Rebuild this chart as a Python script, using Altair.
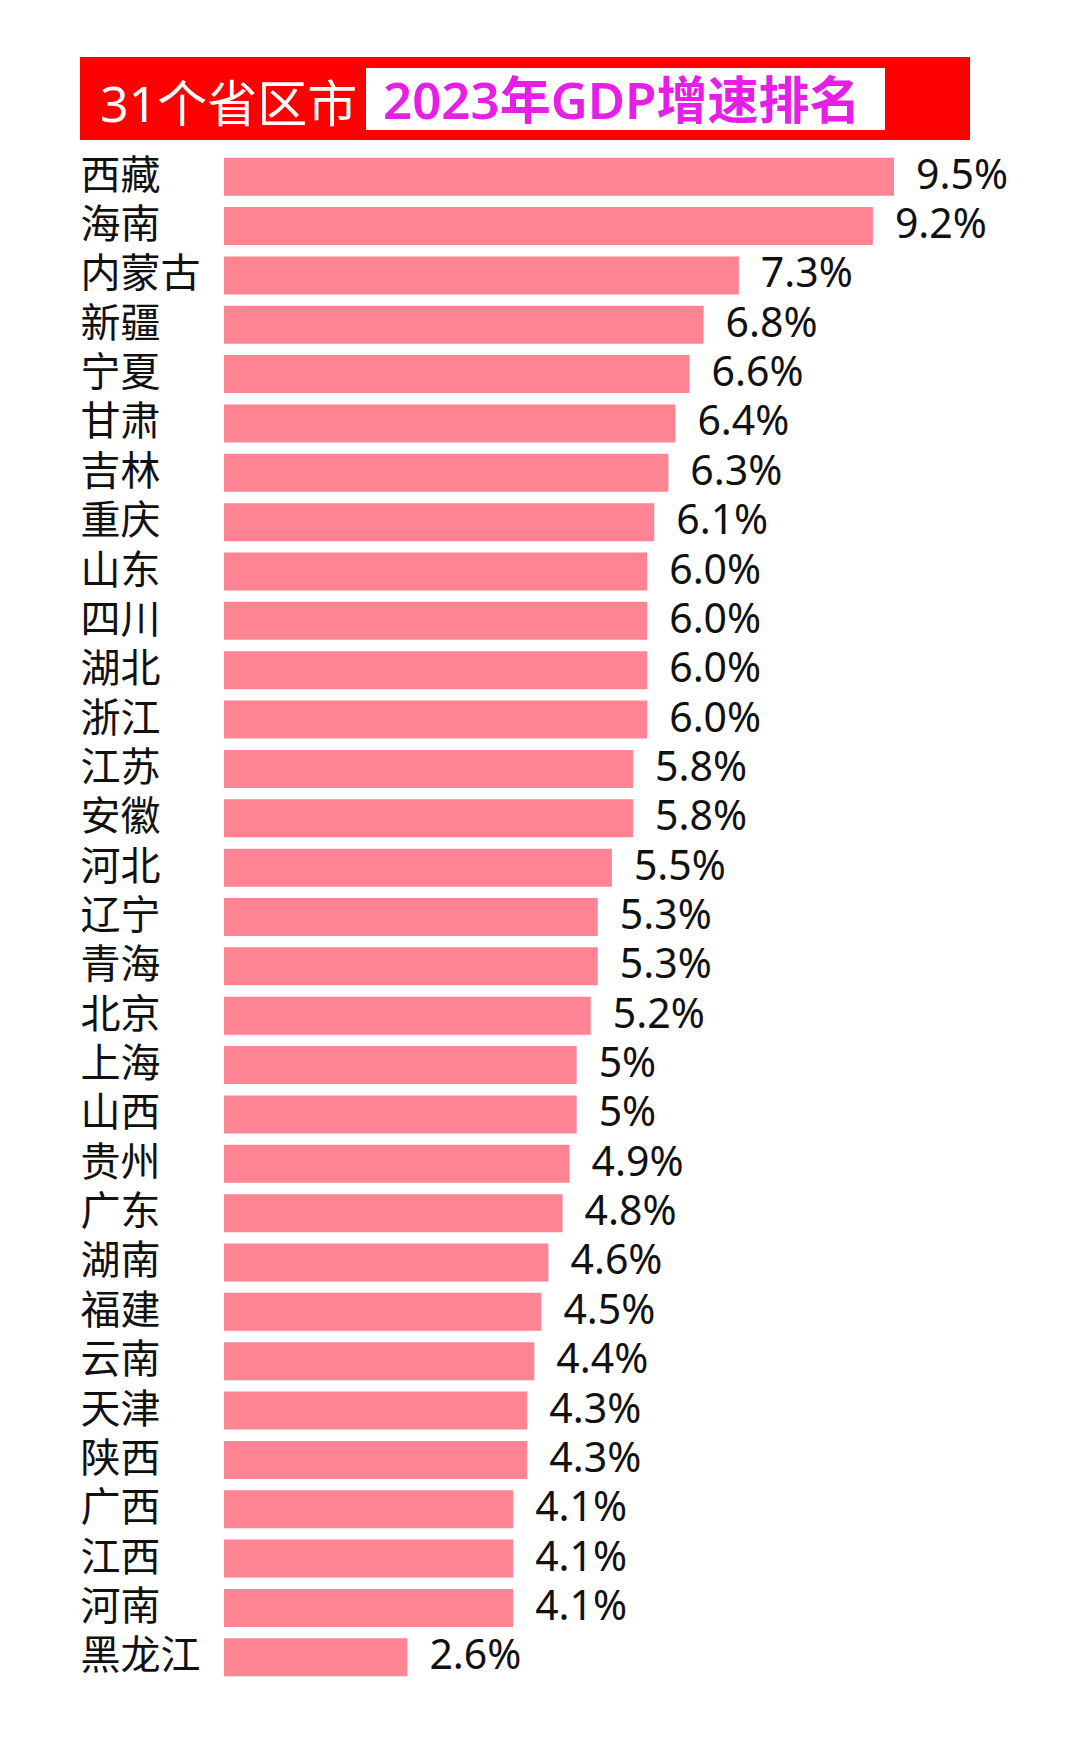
import altair as alt
import pandas as pd

provinces = ["西藏", "海南", "内蒙古", "新疆", "宁夏", "甘肃", "吉林", "重庆", "山东", "四川",
             "湖北", "浙江", "江苏", "安徽", "河北", "辽宁", "青海", "北京", "上海", "山西",
             "贵州", "广东", "湖南", "福建", "云南", "天津", "陕西", "广西", "江西", "河南", "黑龙江"]
growth = [9.5, 9.2, 7.3, 6.8, 6.6, 6.4, 6.3, 6.1, 6.0, 6.0,
          6.0, 6.0, 5.8, 5.8, 5.5, 5.3, 5.3, 5.2, 5.0, 5.0,
          4.9, 4.8, 4.6, 4.5, 4.4, 4.3, 4.3, 4.1, 4.1, 4.1, 2.6]
value_labels = ["9.5%", "9.2%", "7.3%", "6.8%", "6.6%", "6.4%", "6.3%", "6.1%", "6.0%", "6.0%",
                "6.0%", "6.0%", "5.8%", "5.8%", "5.5%", "5.3%", "5.3%", "5.2%", "5%", "5%",
                "4.9%", "4.8%", "4.6%", "4.5%", "4.4%", "4.3%", "4.3%", "4.1%", "4.1%", "4.1%", "2.6%"]
title_left = "31个省区市"
title_right = "2023年GDP增速排名"

FONT = "Noto Sans, Noto Sans CJK SC"

df = pd.DataFrame({"province": provinces, "growth": growth, "label": value_labels})

W = 800
H = 1530
x_scale = alt.Scale(domain=[0, W / 70.53], nice=False, zero=True)
y_enc = alt.Y("province:N", sort=provinces,
              scale=alt.Scale(paddingInner=0.23, paddingOuter=0.115),
              axis=alt.Axis(title=None, domain=False, ticks=False, grid=False,
                            labelAlign="left", labelPadding=144, labelFontSize=40,
                            labelColor="#111111", labelFont=FONT, labelBaseline="middle"))

bars = alt.Chart(df).mark_bar(color="#fe8494").encode(
    x=alt.X("growth:Q", scale=x_scale, axis=None),
    y=y_enc,
)

texts = alt.Chart(df).mark_text(align="left", baseline="middle", dx=22, fontSize=41,
                                font=FONT, color="#111111").encode(
    x=alt.X("growth:Q", scale=x_scale, axis=None),
    y=alt.Y("province:N", sort=provinces),
    text="label:N",
)

title_df = pd.DataFrame({"t": [0]})
red_box = alt.Chart(title_df).mark_rect(color="#ff0000").encode(
    x=alt.value(-144), x2=alt.value(746), y=alt.value(-95), y2=alt.value(-12))
white_box = alt.Chart(title_df).mark_rect(color="#ffffff").encode(
    x=alt.value(142), x2=alt.value(661), y=alt.value(-84), y2=alt.value(-22))
t_left = alt.Chart(title_df).mark_text(align="left", baseline="alphabetic", fontSize=50,
                                       font=FONT, color="#ffffff").encode(
    x=alt.value(-124), y=alt.value(-30), text=alt.value(title_left))
t_right = alt.Chart(title_df).mark_text(align="left", baseline="alphabetic", fontSize=51,
                                        font=FONT, color="#e61ee6", fontWeight=600).encode(
    x=alt.value(159), y=alt.value(-33), text=alt.value(title_right))

chart = alt.layer(bars, texts, red_box, white_box, t_left, t_right).properties(
    width=W, height=H,
    autosize=alt.AutoSizeParams(type="none"),
    padding={"left": 224, "top": 152, "right": 56, "bottom": 63},
    background="#ffffff",
).configure_view(stroke=None)

chart.save("out.html", embed_options={"renderer": "svg", "actions": False})
